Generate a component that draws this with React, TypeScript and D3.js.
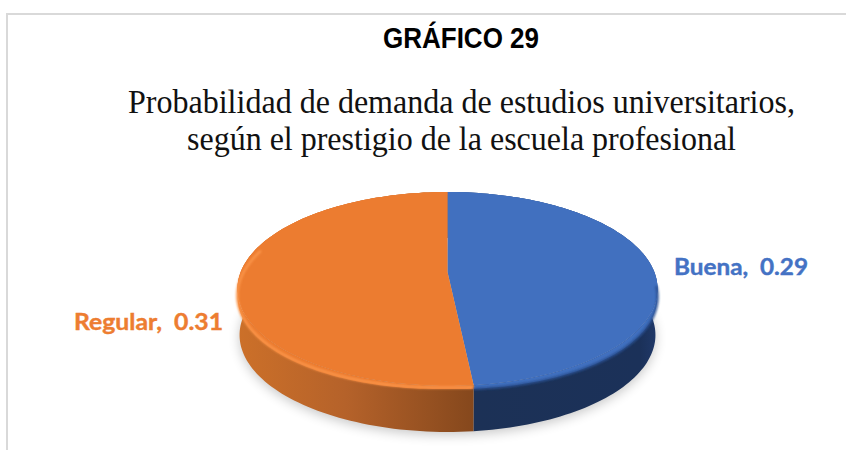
import React from "react";
import * as d3 from "d3";

const categories = ["Buena", "Regular"];
const seriesValues = [0.29, 0.31];
const labelTexts = ["Buena,  0.29", "Regular,  0.31"];
const topColors = ["#4170bf", "#ec7c30"];
const labelColors = ["#4472c4", "#ed7d31"];

const W = 846, H = 450;
const CX = 447.5;
const HUB_Y = 272;
const A = 206.8, B = 94, K = -0.175;
const DEPTH = 46;
const BEVEL_FRONT = 3;
const BEVEL_SIDE = 8;

const project = (theta: number): [number, number] => {
  const u = Math.sin(theta), v = -Math.cos(theta);
  const d = 1 + K * v;
  return [CX + (A * u) / d, HUB_Y + (B * v) / d];
};
const below = ([x, y]: [number, number]): [number, number] => [CX + (x - CX) * 0.99, y + DEPTH];
const bevelDrop = (theta: number) => BEVEL_FRONT + (BEVEL_SIDE - BEVEL_FRONT) * Math.abs(Math.sin(theta));
const bevelled = (theta: number, inset = 0): [number, number] => {
  const [x, y] = project(theta);
  return [x, y + bevelDrop(theta) - inset];
};

const line = d3.line<[number, number]>().x(p => p[0]).y(p => p[1]);
const samples = (a0: number, a1: number) => d3.range(0, 121).map(i => a0 + ((a1 - a0) * i) / 120);

export default function App() {
  const arcs = d3.pie<number>().sort(null)(seriesValues);
  const slices = arcs.map((a, i) => {
    const thetas = samples(a.startAngle, a.endAngle);
    const rim = thetas.map(t => project(t));
    const top = line([[CX, HUB_Y], ...rim])! + "Z";
    const band = line([...rim, ...thetas.slice().reverse().map(t => bevelled(t))])! + "Z";
    const side = line([...rim, ...rim.slice().reverse().map(below)])! + "Z";
    return { i, a, rim, top, band, side };
  });
  const full = samples(0, 2 * Math.PI).map(t => project(t));
  const shadow = line(full.map(p => { const q = below(p); return [q[0], q[1] + 3] as [number, number]; }))! + "Z";

  const frontOrange = samples(arcs[1].startAngle, 1.6 * Math.PI).map(t => bevelled(t, 1.5));
  const frontBlue = samples(0.52 * Math.PI, arcs[0].endAngle).map(t => bevelled(t));

  return (
    <svg width={W} height={H} viewBox={`0 0 ${W} ${H}`}
      style={{ position: "absolute", left: 0, top: 0, background: "#fff" }}>
      <defs>
        <filter id="blurS" x="-20%" y="-20%" width="140%" height="140%"><feGaussianBlur stdDeviation="6" /></filter>
        <filter id="blurR" x="-10%" y="-10%" width="120%" height="120%"><feGaussianBlur stdDeviation="0.9" /></filter>
        <linearGradient id="sideG1" gradientUnits="userSpaceOnUse" x1="477" x2="658" y1="0" y2="0">
          <stop offset="0" stopColor="#1c3156" />
          <stop offset="0.9" stopColor="#1b3159" />
          <stop offset="1" stopColor="#20396a" />
        </linearGradient>
        <linearGradient id="sideG0" gradientUnits="userSpaceOnUse" x1="238" x2="477" y1="0" y2="0">
          <stop offset="0" stopColor="#cc7029" />
          <stop offset="0.45" stopColor="#b5622a" />
          <stop offset="1" stopColor="#84471c" />
        </linearGradient>
      </defs>

      <path d="M7 450V14H846" fill="none" stroke="#d9d9d9" strokeWidth={2} />

      <text x={461} y={48} textAnchor="middle" textLength={156} lengthAdjust="spacingAndGlyphs"
        fontFamily="'Liberation Sans', Arial, sans-serif" fontWeight="bold" fontSize={29} fill="#000">GRÁFICO 29</text>
      <text x={461.5} y={113} textAnchor="middle" textLength={667} lengthAdjust="spacingAndGlyphs"
        fontFamily="'Liberation Serif', 'Times New Roman', serif" fontSize={33} fill="#111">Probabilidad de demanda de estudios universitarios,</text>
      <text x={461.5} y={150} textAnchor="middle" textLength={549} lengthAdjust="spacingAndGlyphs"
        fontFamily="'Liberation Serif', 'Times New Roman', serif" fontSize={33} fill="#111">según el prestigio de la escuela profesional</text>

      <path d={shadow} fill="#000" opacity={0.22} filter="url(#blurS)" />

      {slices.map(s => <path key={`side-${categories[s.i]}`} d={s.side} fill={`url(#sideG${s.i === 0 ? 1 : 0})`} />)}
      {slices.map(s => <path key={`band-${categories[s.i]}`} d={s.band} fill={topColors[s.i]} />)}
      {slices.map(s => <path key={`top-${categories[s.i]}`} d={s.top} fill={topColors[s.i]} />)}
      <path d={line(frontOrange)!} fill="none" stroke="#fa9449" strokeWidth={2.6} filter="url(#blurR)" />
      <path d={line(frontBlue)!} fill="none" stroke="#2c5193" strokeWidth={2.4} filter="url(#blurR)" />

      <text x={674} y={275} xmlSpace="preserve" fontFamily="Lato, 'Open Sans', sans-serif" fontWeight="bold" fontSize={22}
        textLength={134} lengthAdjust="spacingAndGlyphs" fill={labelColors[0]} stroke={labelColors[0]} strokeWidth={0.4} style={{ whiteSpace: "pre" }}>{labelTexts[0]}</text>
      <text x={74} y={330} xmlSpace="preserve" fontFamily="Lato, 'Open Sans', sans-serif" fontWeight="bold" fontSize={22}
        textLength={149} lengthAdjust="spacingAndGlyphs" fill={labelColors[1]} stroke={labelColors[1]} strokeWidth={0.4} style={{ whiteSpace: "pre" }}>{labelTexts[1]}</text>
    </svg>
  );
}
